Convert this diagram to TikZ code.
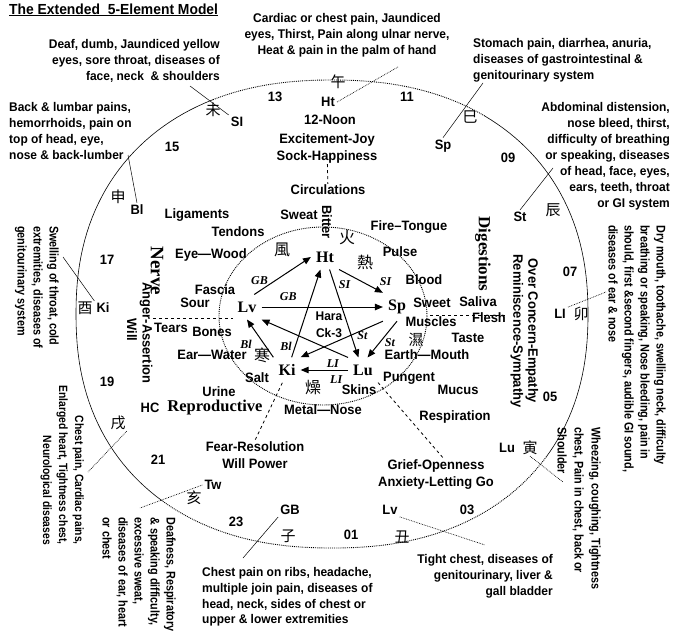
\documentclass[tikz,border=0pt]{standalone}
\usepackage{fontspec}
\setmainfont{Liberation Sans}[FakeStretch=0.95]
\newfontfamily\serifb{Liberation Serif}
\newfontfamily\narrowsf{Liberation Sans}[FakeStretch=0.86]
\newfontfamily\cjk{Noto Sans CJK TC}
\usetikzlibrary{arrows.meta}

\tikzset{
  txt/.style={font=\fontsize{13.6}{17}\selectfont\bfseries, inner sep=1pt},
  note/.style={font=\fontsize{12.6}{16}\selectfont\bfseries, inner sep=0pt},
  vnote/.style={font=\narrowsf\fontsize{12.6}{16}\selectfont\bfseries, inner sep=0pt,
    rotate=-90, anchor=north west, align=left},
  hour/.style={font=\fontsize{13.6}{15}\selectfont\bfseries, inner sep=2pt},
  han/.style={font=\cjk\fontsize{15}{15}\selectfont, inner sep=1pt},
  bighan/.style={font=\cjk\fontsize{16}{16}\selectfont, inner sep=1pt},
  organ/.style={font=\serifb\fontsize{16}{18}\selectfont\bfseries, inner xsep=5pt, inner ysep=7pt},
  sys/.style={font=\serifb\fontsize{17}{19}\selectfont\bfseries, inner sep=1pt},
  lab/.style={font=\serifb\fontsize{12}{12}\selectfont\bfseries\itshape, inner sep=1pt},
  flow/.style={-{Triangle[length=8pt,width=6.5pt]}, line width=1pt},
  sep/.style={dashed, line width=0.8pt},
  leader/.style={line width=0.5pt},
  dotleader/.style={line width=0.7pt, densely dotted},
  rim/.style={line width=0.6pt},
  dotrim/.style={line width=0.9pt, densely dotted}
}

\begin{document}
\begin{tikzpicture}[x=1pt, y=-1pt]
  \useasboundingbox[fill=white] (0,0) rectangle (676,640);

  \node[font=\fontsize{14.6}{16}\selectfont\bfseries, anchor=base west, inner sep=0pt] (title) at (9,14)
    {\underline{The Extended\ \ 5-Element Model}};

  % outer ring
  \draw[dotrim] plot[domain=-115:-56, samples=40]
    ({332+256*cos(\x)*pow(abs(cos(\x))+0.001,-0.111)}, {314+234*sin(\x)*pow(abs(sin(\x))+0.001,-0.111)});
  \draw[rim] plot[domain=-56:35, samples=50]
    ({332+256*cos(\x)*pow(abs(cos(\x))+0.001,-0.111)}, {314+234*sin(\x)*pow(abs(sin(\x))+0.001,-0.111)});
  \draw[dotrim] plot[domain=35:129, samples=50]
    ({332+256*cos(\x)*pow(abs(cos(\x))+0.001,-0.111)}, {314+234*sin(\x)*pow(abs(sin(\x))+0.001,-0.111)});
  \draw[rim] plot[domain=129:245, samples=60]
    ({332+256*cos(\x)*pow(abs(cos(\x))+0.001,-0.111)}, {314+234*sin(\x)*pow(abs(sin(\x))+0.001,-0.111)});

  % inner ring
  \draw[dotrim] (323,316) ellipse [x radius=104, y radius=89];

  % hours and meridians
  \node[han] (wu) at (338,82) {午};
  \node[hour] (mHt) at (328,102) {Ht};
  \node[hour] (noon) at (330,120) {12-Noon};
  \node[hour] (h13) at (275,97) {13};
  \node[hour] (h11) at (407,97) {11};
  \node[hour] (mSI) at (237,122) {SI};
  \node[han] (wei) at (213,110) {未};
  \node[hour] (mSp) at (443,146) {Sp};
  \node[han] (si) at (470,117) {巳};
  \node[hour] (h09) at (508,158) {09};
  \node[hour] (mSt) at (520,217) {St};
  \node[han] (chen) at (553,210) {辰};
  \node[hour] (h07) at (570,272) {07};
  \node[hour] (mLI) at (560,314) {LI};
  \node[han] (mao) at (581,314) {卯};
  \node[hour] (h05) at (550,397) {05};
  \node[hour] (mLu) at (507,448) {Lu};
  \node[han] (yin) at (530,448) {寅};
  \node[hour] (h03) at (467,510) {03};
  \node[hour] (mLv) at (390,510) {Lv};
  \node[han] (chou) at (402,537) {丑};
  \node[hour] (h01) at (351,535) {01};
  \node[hour] (mGB) at (290,510) {GB};
  \node[han] (zi) at (288,536) {子};
  \node[hour] (h23) at (236,522) {23};
  \node[hour] (mTw) at (213,485) {Tw};
  \node[han] (hai) at (194,498) {亥};
  \node[hour] (h21) at (158,460) {21};
  \node[han] (xu) at (118,423) {戌};
  \node[hour] (mHC) at (150,408) {HC};
  \node[hour] (h19) at (107,382) {19};
  \node[han] (you) at (85,308) {酉};
  \node[hour] (mKi) at (103,308) {Ki};
  \node[hour] (h17) at (107,260) {17};
  \node[han] (shen) at (118,197) {申};
  \node[hour] (mBl) at (137,210) {Bl};
  \node[hour] (h15) at (172,147) {15};

  % symptom notes
  \node[note, align=right, anchor=east] (deaf) at (220,61)
    {Deaf, dumb, Jaundiced yellow\\eyes, sore throat, diseases of\\face, neck\ \ \& shoulders};
  \node[note, align=center] (cardiac) at (347,35)
    {Cardiac or chest pain, Jaundiced\\eyes, Thirst, Pain along ulnar nerve,\\Heat \& pain in the palm of hand};
  \node[note, align=left, anchor=west] (stomach) at (473,60)
    {Stomach pain, diarrhea, anuria,\\diseases of gastrointestinal \&\\genitourinary system};
  \node[note, align=right, anchor=east] (abdomen) at (670,156)
    {Abdominal distension,\\nose bleed, thirst,\\difficulty of breathing\\or speaking, diseases\\of head, face, eyes,\\ears, teeth, throat\\or GI system};
  \node[vnote] (drymouth) at (666,225)
    {Dry mouth, toothache, swelling neck, difficulty\\breathing or speaking, Nose bleeding, pain in\\should, first \&second fingers, audible GI sound,\\diseases of ear \& nose};
  \node[vnote, font=\narrowsf\fontsize{12.6}{17}\selectfont\bfseries] (wheeze) at (601,427)
    {Wheezing, coughing, Tightness\\chest, Pain in chest, back or\\Shoulder};
  \node[note, align=right, anchor=east] (tight) at (553,576)
    {Tight chest, diseases of\\genitourinary, liver \&\\gall bladder};
  \node[note, align=left, anchor=west, font=\fontsize{12.6}{15.6}\selectfont\bfseries] (ribs) at (202,597)
    {Chest pain on ribs, headache,\\multiple join pain, diseases of\\head, neck, sides of chest or\\upper \& lower extremities};
  \node[vnote] (deafness) at (176,517)
    {Deafness, Respiratory\\\& speaking difficulty,\\excessive sweat,\\diseases of ear, heart\\or chest};
  \node[vnote, anchor=north east, align=right, font=\narrowsf\fontsize{12}{16}\selectfont\bfseries] (chestpain) at (84,545)
    {Chest pain, Cardiac pains,\\Enlarged heart, Tightness chest,\\Neurological diseases};
  \node[vnote] (swelling) at (59,226)
    {Swelling of throat, cold\\extremities, diseases of\\genitourinary system};
  \node[note, align=left, anchor=west, font=\fontsize{12.6}{15.7}\selectfont\bfseries] (back) at (9,131)
    {Back \& lumbar pains,\\hemorrhoids, pain on\\top of head, eye,\\nose \& back-lumber};

  \coordinate (n1) at (190,86);
  \coordinate (n2) at (398,67);
  \coordinate (n3) at (483,83);
  \coordinate (n4) at (553,168);
  \coordinate (n5) at (606,292);
  \coordinate (n6) at (563,482);
  \coordinate (n7) at (485,545);
  \coordinate (n8) at (243,558);
  \coordinate (n9) at (140,508);
  \coordinate (n10) at (88,472);
  \coordinate (n11) at (63,257);
  \coordinate (n12) at (128,155);

  \draw[leader] (n1) -- (mSI.north west);
  \draw[dotleader] (mHt.east) -- (n2);
  \draw[leader] (mSp.north) -- (n3);
  \draw[leader] (mSt.north) -- (n4);
  \draw[dotleader] (mLI.north east) -- (n5);
  \draw[dotleader] (yin.south) -- (n6);
  \draw[dotleader] (mLv.south east) -- (n7);
  \draw[leader] (mGB.south west) -- (n8);
  \draw[dotleader] (mTw.west) -- (n9);
  \draw[dotleader] (xu.south east) -- (n10);
  \draw[leader] (mKi.north west) -- (n11);
  \draw[leader] (mBl.north) -- (n12);

  % emotions and systems
  \node[txt, align=center] (joy) at (327,148) {Excitement-Joy\\Sock-Happiness};
  \node[txt] (circ) at (328,190) {Circulations};
  \draw[sep] (joy) -- (circ);
  \node[txt, align=center] (fear) at (255,455) {Fear-Resolution\\Will Power};
  \node[txt, align=center] (grief) at (436,475) {Grief-Openness\\Anxiety-Letting Go};
  \node[txt] (resp) at (455,417) {Respiration};
  \node[sys, rotate=-90] (digest) at (483,254) {Digestions};
  \node[txt, rotate=-90] (concern) at (532,331) {Over Concern-Empathy};
  \node[txt, rotate=-90] (remin) at (517,331) {Reminiscence-Sympathy};
  \node[sys, rotate=-90, font=\serifb\fontsize{19}{19}\selectfont\bfseries] (nerve) at (157,271) {Nerve};
  \node[txt, rotate=-90] (anger) at (146,333) {Anger-Assertion};
  \node[txt, rotate=-90] (will) at (132,330) {Will};
  \node[sys, font=\serifb\fontsize{16.5}{18}\selectfont\bfseries] (repro) at (215,408) {Reproductive};

  % correspondences
  \node[txt] (sweat) at (299,215) {Sweat};
  \node[txt, rotate=-90] (bitter) at (327,222) {Bitter};
  \node[txt] (fire) at (409,227) {Fire--Tongue};
  \node[txt] (pulse) at (400,252) {Pulse};
  \node[txt] (blood) at (424,280) {Blood};
  \node[txt] (sweet) at (432,303) {Sweet};
  \node[txt] (saliva) at (478,302) {Saliva};
  \node[txt] (muscles) at (431,322) {Muscles};
  \node[txt] (flesh) at (489,318) {Flesh};
  \node[txt] (taste) at (468,338) {Taste};
  \node[txt] (earth) at (427,355) {Earth---Mouth};
  \node[txt] (pungent) at (409,378) {Pungent};
  \node[txt] (mucus) at (458,390) {Mucus};
  \node[txt] (skins) at (359,390) {Skins};
  \node[txt] (metal) at (323,410) {Metal---Nose};
  \node[txt] (ligaments) at (197,215) {Ligaments};
  \node[txt] (tendons) at (238,232) {Tendons};
  \node[txt] (eye) at (211,255) {Eye---Wood};
  \node[txt] (fascia) at (215,290) {Fascia};
  \node[txt] (sour) at (195,303) {Sour};
  \node[txt] (tears) at (171,328) {Tears};
  \node[txt] (bones) at (212,332) {Bones};
  \node[txt] (ear) at (212,355) {Ear---Water};
  \node[txt] (salt) at (257,378) {Salt};
  \node[txt] (urine) at (219,392) {Urine};
  \node[txt, align=center, font=\fontsize{12.6}{17}\selectfont\bfseries] (hara) at (329,325) {Hara\\Ck-3};

  \coordinate (wl) at (153,318);
  \coordinate (wr) at (233,318);
  \coordinate (el) at (430,315);
  \coordinate (er) at (507,315);
  \draw[sep] (wl) -- (wr);
  \draw[sep] (el) -- (er);

  \node[bighan] (feng) at (282,250) {風};
  \node[bighan] (huo) at (347,238) {火};
  \node[bighan] (re) at (365,262) {熱};
  \node[bighan, font=\cjk\fontsize{15}{15}\selectfont] (shi) at (416,340) {濕};
  \node[bighan] (han) at (262,355) {寒};
  \node[bighan] (zao) at (313,388) {燥};

  % five organs
  \node[organ] (Ht) at (325,257) {Ht};
  \node[organ] (Lv) at (247,307) {Lv};
  \node[organ] (Sp) at (397,307) {Sp};
  \node[organ] (Ki) at (287,370) {Ki};
  \node[organ] (Lu) at (363,370) {Lu};

  \draw[flow] (Lv.60) -- node[lab, pos=.25, above left=-1pt] {GB} (Ht.west);
  \draw[flow] (Lv.east) -- node[lab, pos=.22, above=5pt] {GB} (Sp.west);
  \draw[flow] (Ht.south east) -- node[lab, pos=.85, above right=2pt] {SI} (Sp.north west);
  \draw[flow] (Ht.-70) -- node[lab, pos=.17, right=3pt] {SI} (Lu.110);
  \draw[flow] (Sp.south) -- node[lab, pos=.6, right=4pt] {St} (Lu.70);
  \draw[flow] (Sp.south west) -- node[lab, pos=.25, below=0pt] {St} (Ki.north east);
  \draw[flow] (Lu.west) -- node[lab, pos=.32, above=1pt] {LI} node[lab, pos=.25, below=4pt] {LI} (Ki.east);
  \draw[flow] (Ki.70) -- node[lab, pos=.12, left=2pt] {Bl} (Ht.250);
  \draw[flow] (Ki.north west) -- node[lab, pos=.35, left=11pt] {Bl} (Lv.south);
  \draw[flow] (Lu.north west) -- (Lv.south east);

  \draw[sep] (Ki.250) -- (fear.north);
  \draw[sep] (Lu.south east) -- ([xshift=8pt]grief.north);
\end{tikzpicture}
\end{document}
